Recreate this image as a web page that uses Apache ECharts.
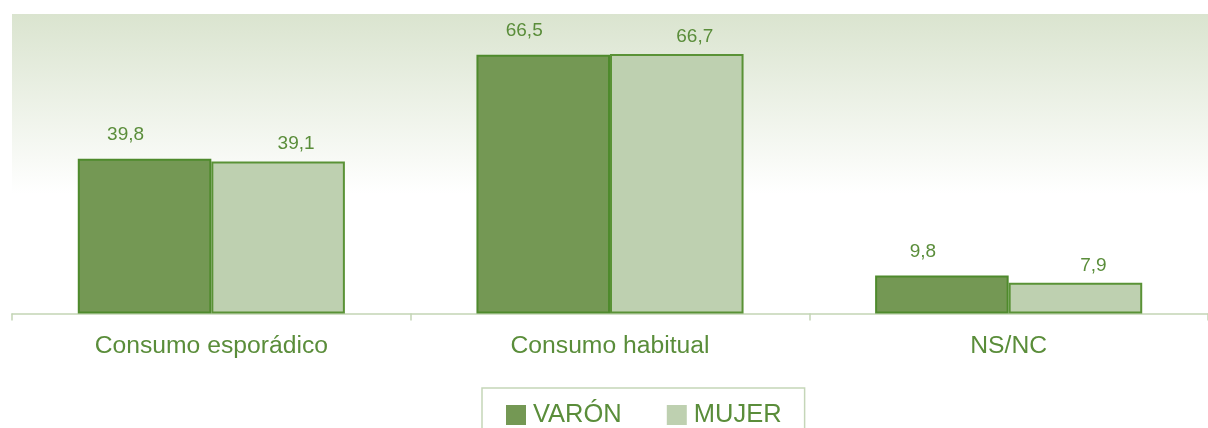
<!DOCTYPE html>
<html>
<head>
<meta charset="utf-8">
<script src="https://cdn.jsdelivr.net/npm/echarts@6/dist/echarts.min.js"></script>
<style>
html,body{margin:0;padding:0;background:#fff;}
#c{width:1208px;height:428px;}
</style>
</head>
<body>
<div id="c"></div>
<script>
const categories = ['Consumo esporádico', 'Consumo habitual', 'NS/NC'];
const varon = [39.8, 66.5, 9.8];
const mujer = [39.1, 66.7, 7.9];
const seriesNames = ['VARÓN', 'MUJER'];

const textColor = '#5a8d3a';
const fontFam = '"Liberation Sans", Arial, sans-serif';
const fmt = p => String(p.value).replace('.', ',');

const chart = echarts.init(document.getElementById('c'));
chart.setOption({
  animation: false,
  grid: {
    left: 12, top: 14, right: -4, bottom: 114.5,
    show: true, borderWidth: 0,
    backgroundColor: {
      type: 'linear', x: 0, y: 0, x2: 0, y2: 1,
      colorStops: [
        {offset: 0, color: '#dae4cf'},
        {offset: 0.6, color: '#ffffff'},
        {offset: 1, color: '#ffffff'}
      ]
    }
  },
  legend: {
    bottom: -14, left: 482,
    itemWidth: 20, itemHeight: 20, itemGap: 45,
    padding: [14, 23, 14, 24],
    borderColor: '#c5d6b8', borderWidth: 1.5,
    textStyle: {color: textColor, fontSize: 25.5, fontFamily: fontFam, padding: [0, 0, 0, 2]},
    data: [
      {name: seriesNames[0], icon: 'rect', itemStyle: {borderWidth: 0}},
      {name: seriesNames[1], icon: 'rect', itemStyle: {borderWidth: 0}}
    ]
  },
  xAxis: {
    type: 'category', data: categories,
    axisLine: {lineStyle: {color: '#c3d5b5', width: 1.5}},
    axisTick: {show: true, length: 7, lineStyle: {color: '#c3d5b5', width: 1.5}},
    axisLabel: {color: textColor, fontSize: 24.7, fontFamily: fontFam, margin: 20}
  },
  yAxis: {type: 'value', min: 0, max: 77, show: false},
  series: [
    {
      name: seriesNames[0], type: 'bar', data: varon,
      barGap: '0%', barCategoryGap: '33%',
      itemStyle: {color: '#749854', borderColor: '#4e8a2c', borderWidth: 2},
      label: {show: true, position: 'top', distance: 5, offset: [-19, -9.5],
        color: textColor, fontSize: 19, fontFamily: fontFam, formatter: fmt}
    },
    {
      name: seriesNames[1], type: 'bar', data: mujer,
      barGap: '0%', barCategoryGap: '33%',
      itemStyle: {color: '#bed0b0', borderColor: '#5a9236', borderWidth: 2},
      label: {show: true, position: 'top', distance: 5, offset: [18, -3],
        color: textColor, fontSize: 19, fontFamily: fontFam, formatter: fmt}
    }
  ]
});
</script>
</body>
</html>
